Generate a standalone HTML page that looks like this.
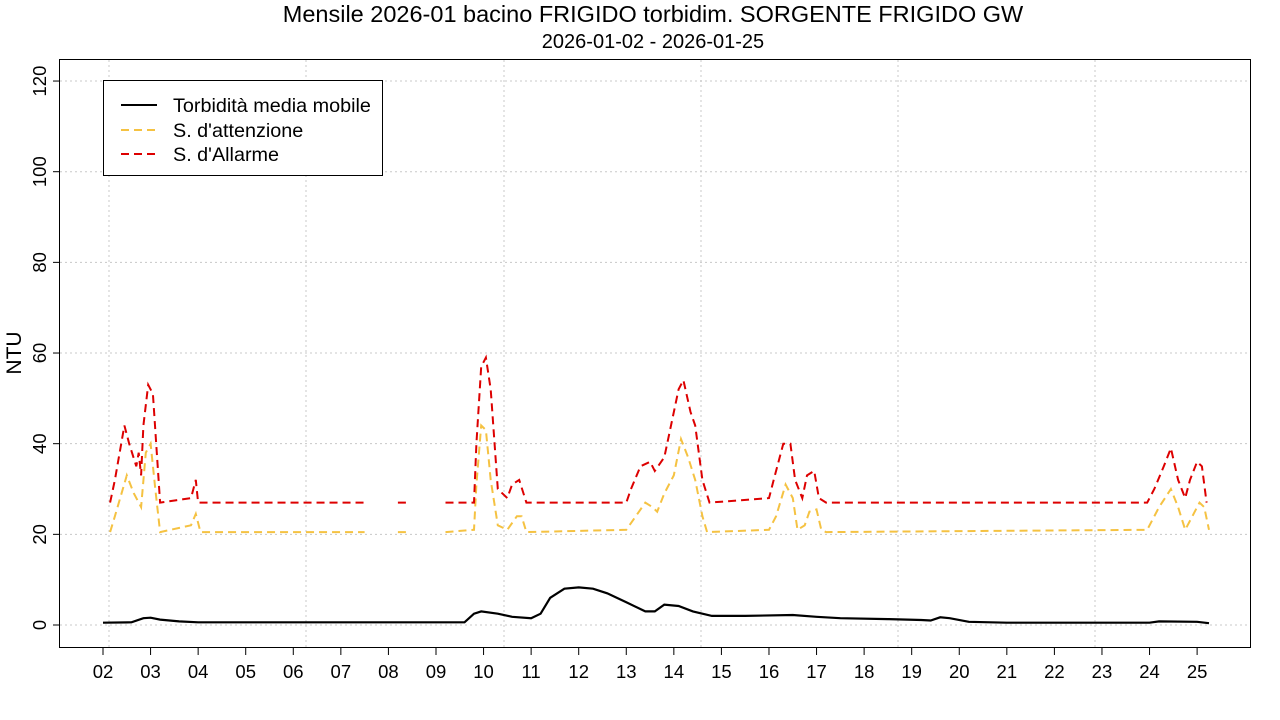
<!DOCTYPE html>
<html><head><meta charset="utf-8"><style>body{margin:0;background:#fff}svg{display:block;font-family:"Liberation Sans",Arial,sans-serif}</style></head>
<body>
<svg id="s" width="1280" height="720" viewBox="0 0 1280 720">
<text x="653" y="22" font-size="23.5" text-anchor="middle">Mensile 2026-01 bacino FRIGIDO torbidim. SORGENTE FRIGIDO GW</text>
<text x="653" y="48" font-size="20" text-anchor="middle">2026-01-02 - 2026-01-25</text>
<g id="grid" stroke="#c8c8c8" stroke-dasharray="2,3" stroke-width="1"></g>
<rect x="59.5" y="59.5" width="1191" height="588" fill="none" stroke="#000"/>
<g id="ax" font-size="18.5"></g>
<text transform="translate(21,353) rotate(-90)" font-size="21" text-anchor="middle">NTU</text>
<g id="data" fill="none"></g>
<rect x="103.5" y="80.5" width="279" height="95" fill="#fff" stroke="#000"/>
<line x1="121" y1="105" x2="157" y2="105" stroke="#000" stroke-width="2"/>
<line x1="121" y1="130" x2="157" y2="130" stroke="#f5c242" stroke-width="2" stroke-dasharray="8,5"/>
<line x1="121" y1="154" x2="157" y2="154" stroke="#dd0000" stroke-width="2" stroke-dasharray="8,5"/>
<g font-size="19.8"><text x="173" y="112">Torbidità media mobile</text><text x="173" y="137">S. d'attenzione</text><text x="173" y="161">S. d'Allarme</text></g>
</svg>
<script>
var NS="http://www.w3.org/2000/svg";
function X(t){return 103+47.57*(t-2)}function Y(v){return 625-4.533*v}
function el(p,n,a,txt){var e=document.createElementNS(NS,n);for(var k in a)e.setAttribute(k,a[k]);if(txt!=null)e.textContent=txt;document.getElementById(p).appendChild(e);}
[0,20,40,60,80,100,120].forEach(function(v){var y=Y(v);el("grid","line",{x1:60,x2:1250,y1:y,y2:y});
el("ax","line",{x1:53,x2:60,y1:y,y2:y,stroke:"#000"});
el("ax","text",{transform:"translate(46,"+y+") rotate(-90)","text-anchor":"middle"},v);});
[109,306,504,701,898,1095].forEach(function(x){el("grid","line",{x1:x,x2:x,y1:60,y2:647});});
for(var d=2;d<=25;d++){var x=X(d);el("ax","line",{x1:x,x2:x,y1:647,y2:655,stroke:"#000"});el("ax","text",{x:x,y:678,"text-anchor":"middle"},(d<10?"0":"")+d);}
function path(pts,col,dash,w){var s="";pts.forEach(function(seg){seg.forEach(function(p,i){s+=(i?"L":"M")+X(p[0]).toFixed(1)+","+Y(p[1]).toFixed(1);});});
var a={d:s,stroke:col,"stroke-width":w};if(dash)a["stroke-dasharray"]=dash;el("data","path",a);}
var red=[[[2.15,27],[2.25,32],[2.45,44],[2.55,40],[2.7,35],[2.75,38],[2.8,33],[2.85,44],[2.95,53],[3.05,51],[3.2,27],[3.85,28],[3.95,32],[4.0,27],[7.5,27]],[[8.2,27],[8.38,27]],[[9.2,27],[9.8,27],[9.85,40],[9.95,57],[10.05,59],[10.15,52],[10.3,30],[10.5,28],[10.6,31],[10.75,32],[10.9,27],[13.0,27],[13.1,30],[13.3,35],[13.5,36],[13.6,34],[13.8,37],[13.9,42],[14.1,52],[14.2,54],[14.35,47],[14.45,44],[14.6,32],[14.75,27],[16.0,28],[16.1,32],[16.3,40],[16.45,40],[16.55,32],[16.7,28],[16.8,33],[16.95,34],[17.05,28],[17.2,27],[23.95,27],[24.1,30],[24.3,35],[24.45,39],[24.6,32],[24.75,28],[24.85,32],[25.0,36],[25.1,35],[25.2,27]]];
var yel=[[[2.15,20.5],[2.25,24],[2.5,33],[2.65,29],[2.8,26],[2.9,38],[3.0,40],[3.1,30],[3.2,20.5],[3.85,22],[3.95,24.5],[4.05,20.5],[7.5,20.5]],[[8.2,20.5],[8.38,20.5]],[[9.2,20.5],[9.8,21],[9.85,31],[9.95,44],[10.05,43],[10.15,32],[10.3,22],[10.5,21],[10.7,24],[10.8,24],[10.9,20.5],[13.0,21],[13.2,24],[13.4,27],[13.55,26],[13.65,25],[13.8,29],[14.0,33],[14.15,41],[14.3,37],[14.45,32],[14.6,24],[14.7,20.5],[16.0,21],[16.15,24],[16.35,31],[16.5,28],[16.6,21],[16.75,22],[16.85,25],[17.0,25.5],[17.1,21],[17.2,20.5],[23.95,21],[24.2,26],[24.45,30],[24.6,26],[24.75,21],[24.9,24],[25.05,27],[25.15,26],[25.25,21]]];
var blk=[[[2,0.5],[2.6,0.6],[2.85,1.5],[3.0,1.6],[3.2,1.2],[3.6,0.8],[4,0.6],[9.6,0.6],[9.8,2.5],[9.95,3],[10.3,2.5],[10.6,1.8],[11.0,1.5],[11.2,2.5],[11.4,6],[11.7,8],[12.0,8.3],[12.3,8.0],[12.6,7],[13.0,5],[13.4,3],[13.6,3],[13.8,4.5],[14.1,4.2],[14.4,3],[14.8,2],[15.5,2],[16.5,2.2],[17.0,1.8],[17.5,1.5],[18.5,1.3],[19.2,1.1],[19.4,1.0],[19.6,1.7],[19.8,1.5],[20.2,0.7],[21,0.5],[24,0.5],[24.2,0.8],[25.0,0.7],[25.25,0.4]]];
path(yel,"#f5c242","8,5",2);path(red,"#dd0000","8,5",2);path(blk,"#000",null,2.2);
</script>
</body></html>
